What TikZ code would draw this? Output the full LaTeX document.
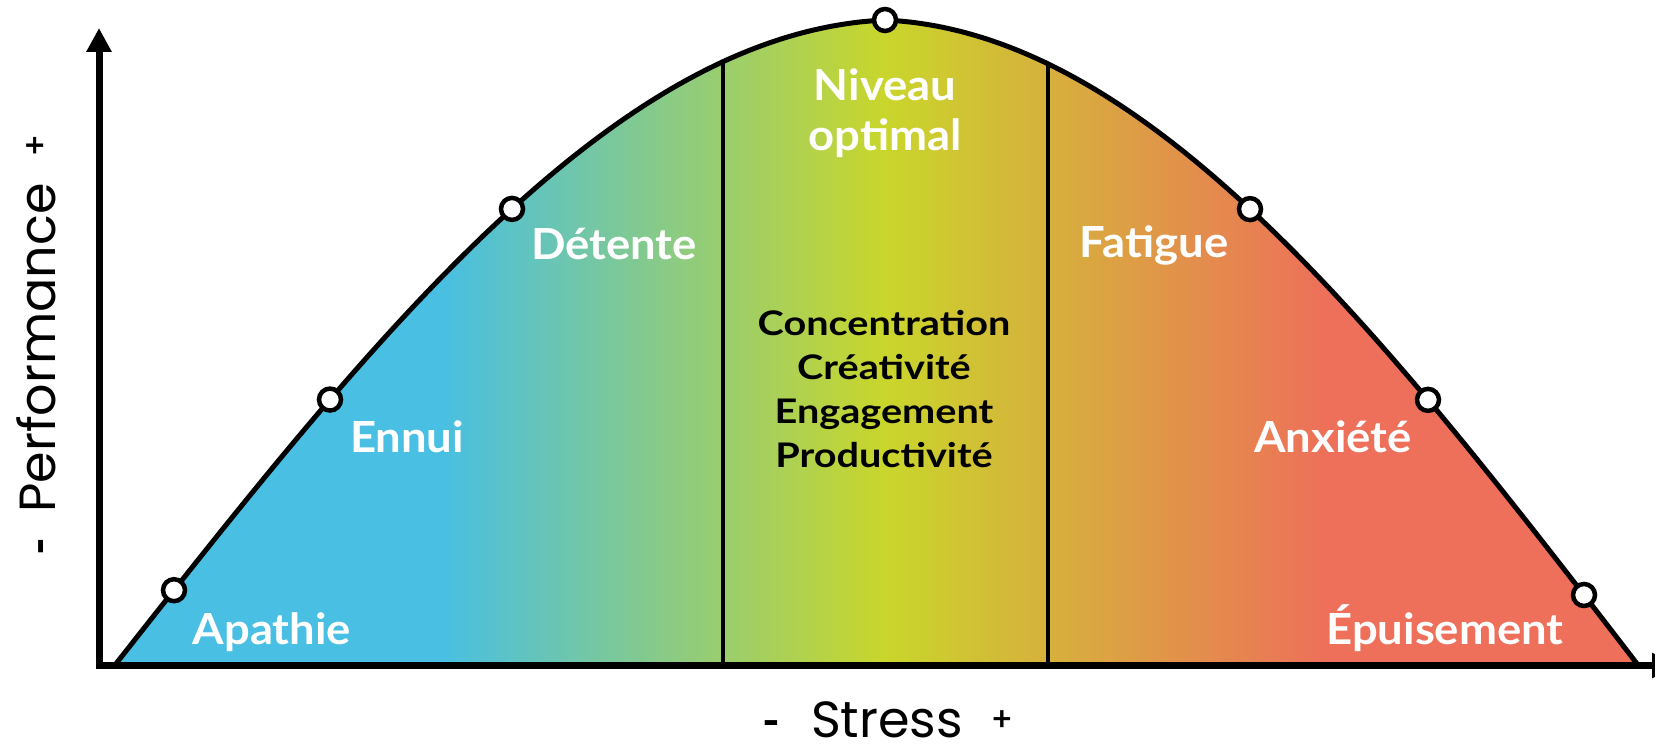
\documentclass[tikz,border=0pt]{standalone}
\usepackage{fontspec}
\setmainfont{Lato}
\newfontfamily\axisfont{Poppins}
\newfontfamily\zonefont[FakeStretch=1.06]{Lato}
\newfontfamily\traitfont[FakeStretch=1.17]{Lato}
\usetikzlibrary{arrows.meta}

\definecolor{zonecyan}{RGB}{72,191,227}
\definecolor{zonelime}{RGB}{201,214,43}
\definecolor{zonesalmon}{RGB}{238,111,90}

% colour band running from low stress (left) to high stress (right)
\pgfdeclarehorizontalshading{stressband}{700bp}{%
  color(0bp)=(zonecyan); color(440bp)=(zonecyan);
  color(885bp)=(zonelime);
  color(1330bp)=(zonesalmon); color(1655bp)=(zonesalmon)}

\begin{document}
\begin{tikzpicture}[x=1bp, y=-1bp,
  declare function={
    bell(\u)=645*cos(\u*90)-11*sin(\u*180);
    lefty(\t)=665-bell((885-\t)/770);
    righty(\t)=665-bell((\t-885)/753);
  },
  curveline/.style={line width=5bp, line join=round},
  divider/.style={line width=4bp},
  axisline/.style={line width=7bp, -{Triangle[length=24bp,width=24bp]}},
  marker/.style={circle, draw, fill=white, line width=4.5bp,
    minimum size=22bp, inner sep=0pt},
  zonelabel/.style={text=white, inner sep=0pt, align=center,
    font=\zonefont\fontsize{43}{50}\selectfont\bfseries},
  traitlabel/.style={text=black, inner sep=0pt, align=center,
    font=\traitfont\fontsize{34}{44}\selectfont\bfseries},
  axislabel/.style={inner sep=0pt, font=\axisfont\fontsize{51}{60}\selectfont},
  minuslabel/.style={inner sep=0pt, font=\fontsize{48}{50}\selectfont\bfseries},
  pluslabel/.style={inner sep=0pt, font=\fontsize{34}{40}\selectfont\bfseries},
]
\useasboundingbox (0,0) rectangle (1655,744);

% area under the curve, filled with the colour band
\begin{scope}
  \clip (115,665) -- plot[domain=115:885, samples=120] (\x,{lefty(\x)})
        -- plot[domain=885:1638, samples=120] (\x,{righty(\x)}) -- cycle;
  \node[inner sep=0pt, outer sep=0pt, anchor=south west] (band) at (0,700)
    {\pgfuseshading{stressband}};
\end{scope}

% borders of the optimal zone
\coordinate (lefttop) at (723,{lefty(723)});
\coordinate (leftbot) at (723,665);
\coordinate (righttop) at (1048,{righty(1048)});
\coordinate (rightbot) at (1048,665);
\draw[divider] (lefttop) -- (leftbot);
\draw[divider] (righttop) -- (rightbot);

% performance curve
\draw[curveline] plot[domain=115:885, samples=120] (\x,{lefty(\x)})
      -- plot[domain=885:1638, samples=120] (\x,{righty(\x)});

% axes
\coordinate (origin) at (99,665.5);
\coordinate (ytip) at (99,28);
\coordinate (xtip) at (1676,665.5);
\draw[axisline, line cap=rect] (origin) -- (ytip);
\draw[axisline, line cap=rect] (origin) -- (xtip);

% markers on the curve
\node[marker] (mapathie) at (174,{lefty(174)}) {};
\node[marker] (mennui) at (330,{lefty(330)}) {};
\node[marker] (mdetente) at (512,{lefty(512)}) {};
\node[marker] (mpeak) at (885,{lefty(885)}) {};
\node[marker] (mfatigue) at (1250,{righty(1250)}) {};
\node[marker] (manxiete) at (1428,{righty(1428)}) {};
\node[marker] (mepuisement) at (1584,{righty(1584)}) {};

% zone names
\node[zonelabel, anchor=base] (apathie) at (272,644) {Apathie};
\node[zonelabel, anchor=base] (ennui) at (407,452) {Ennui};
\node[zonelabel, anchor=base] (detente) at (614,259) {Détente};
\node[zonelabel] (optimal) at (885,113) {Niveau\\optimal};
\node[zonelabel, anchor=base] (fatigue) at (1154,257) {Fatigue};
\node[zonelabel, anchor=base] (anxiete) at (1333,452) {Anxiété};
\node[zonelabel, anchor=base] (epuisement) at (1445,644) {Épuisement};

% qualities of the optimal zone
\node[traitlabel] (traits) at (884,389)
  {Concentration\\Créativité\\Engagement\\Productivité};

% axis titles
\node[axislabel, anchor=base] (stress) at (887,737) {Stress};
\node[minuslabel] (xminus) at (771,729) {-};
\node[pluslabel] (xplus) at (1002,721) {+};
\node[axislabel, anchor=base, rotate=90] (perf) at (55,348) {Performance};
\node[minuslabel, rotate=90] (yminus) at (47,547) {-};
\node[pluslabel, rotate=90] (yplus) at (37,146) {+};
\end{tikzpicture}
\end{document}
